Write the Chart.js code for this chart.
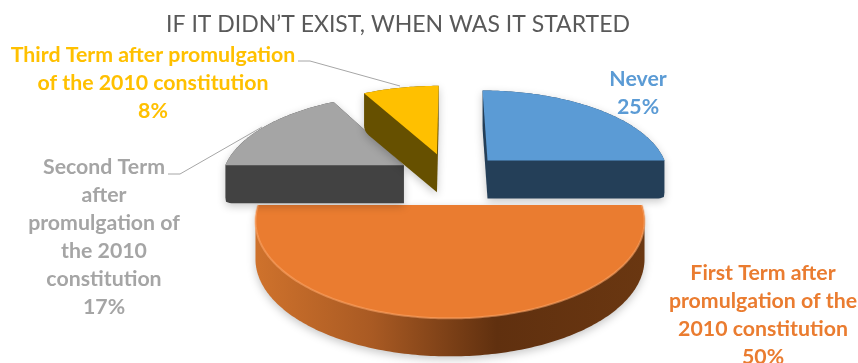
<!DOCTYPE html>
<html>
<head>
<meta charset="utf-8">
<title>Start of the practice</title>
<style>
  html, body { margin: 0; padding: 0; background: #ffffff; }
  canvas { display: block; }
</style>
<script src="https://cdn.jsdelivr.net/npm/chart.js@4/dist/chart.umd.min.js"></script>
</head>
<body>
<canvas id="chart" width="858" height="363"></canvas>
<script>
const chartTitle = "IF IT DIDN\u2019T EXIST, WHEN WAS IT STARTED";
const categories = ["Never", "First Term", "Second Term", "Third Term"];
const values = [25, 50, 17, 8];
const categoryLines = [
  ["Never"],
  ["First Term after", "promulgation of the", "2010 constitution"],
  ["Second Term", "after", "promulgation of", "the 2010", "constitution"],
  ["Third Term after promulgation", "of the 2010 constitution"]
];
const topColors = ["#5b9bd5", "#ea7c30", "#a5a5a5", "#ffc000"];
const sideColors = ["#243f58", "#8a4a1c", "#424242", "#665000"];
const rimColors = [null, "rgba(255,170,110,0.55)", null, null];

// Label anchor: centre x and first-line centre y for each slice.
const labelAnchors = [
  { x: 638, y: 79 },
  { x: 763, y: 273 },
  { x: 104, y: 167 },
  { x: 153, y: 55 }
];
const labelLineHeight = 28;
const leaderLines = [
  null, null,
  [[168, 174], [180, 174], [262, 127]],
  [[298, 61], [310, 61], [400, 86]]
];

// Camera used to lay the flat pie onto a tilted plane.
const camera = { near: 0.00547, falloff: 0.00086, tilt: 0.47, depth: 38, corner: 6 };

function project(el, u, v) {
  const w = 1 / (camera.near - camera.falloff * v);
  return [el.x + u * w, el.y + camera.tilt * v * w];
}

function convexHull(points) {
  const pts = points.slice().sort((a, b) => a[0] - b[0] || a[1] - b[1]);
  const cross = (o, a, b) => (a[0] - o[0]) * (b[1] - o[1]) - (a[1] - o[1]) * (b[0] - o[0]);
  const chain = list => {
    const out = [];
    for (const p of list) {
      while (out.length > 1 && cross(out[out.length - 2], out[out.length - 1], p) <= 0) out.pop();
      out.push(p);
    }
    out.pop();
    return out;
  };
  return chain(pts).concat(chain(pts.reverse()));
}

function tracePolygon(ctx, pts) {
  ctx.beginPath();
  pts.forEach((p, i) => (i ? ctx.lineTo(p[0], p[1]) : ctx.moveTo(p[0], p[1])));
  ctx.closePath();
}

// Rounds the lower corner where the rim meets the flat cut face.
function softCorner(corner, apex) {
  const dx = apex[0] - corner[0];
  const dy = apex[1] - corner[1];
  const len = Math.hypot(dx, dy) || 1;
  const r = camera.corner;
  const from = [corner[0], corner[1] - r];
  const to = [corner[0] + dx / len * r, corner[1] + dy / len * r];
  const pts = [];
  for (let i = 0; i <= 6; i++) {
    const t = i / 6;
    const s = 1 - t;
    pts.push([
      s * s * from[0] + 2 * s * t * corner[0] + t * t * to[0],
      s * s * from[1] + 2 * s * t * corner[1] + t * t * to[1]
    ]);
  }
  return pts;
}

// Arc element that renders as a thick slice on the tilted plane.
class ExtrudedArc extends Chart.ArcElement {
  static id = "extrudedArc";
  draw(ctx) {
    const { startAngle, endAngle, outerRadius } = this;
    const index = this.$context ? this.$context.dataIndex : 0;
    const mid = (startAngle + endAngle) / 2;
    const gap = (this.options.offset || 0) / outerRadius;
    const cu = Math.cos(mid) * gap;
    const cv = Math.sin(mid) * gap;

    const rimPts = [];
    const steps = Math.max(8, Math.round((endAngle - startAngle) * 60));
    for (let i = 0; i <= steps; i++) {
      const a = startAngle + (endAngle - startAngle) * i / steps;
      rimPts.push(project(this, cu + Math.cos(a), cv + Math.sin(a)));
    }
    const apex = project(this, cu, cv);
    const topPts = [apex].concat(rimPts);
    const drop = p => [p[0], p[1] + camera.depth];
    const lowRim = rimPts.map(drop);
    const lowApex = drop(apex);
    const lowPts = [lowApex]
      .concat(softCorner(lowRim[0], lowApex))
      .concat(lowRim.slice(1, -1))
      .concat(softCorner(lowRim[lowRim.length - 1], lowApex));
    const body = convexHull(topPts.concat(lowPts));

    ctx.save();
    ctx.shadowColor = "rgba(0,0,0,0.22)";
    ctx.shadowBlur = 9;
    ctx.shadowOffsetY = 3;
    tracePolygon(ctx, body);
    if (index === 1) {
      const xs = topPts.map(p => p[0]);
      const g = ctx.createLinearGradient(Math.min(...xs), 0, Math.max(...xs), 0);
      g.addColorStop(0, "#cf722c");
      g.addColorStop(0.3, "#a95a23");
      g.addColorStop(0.62, "#60300f");
      g.addColorStop(1, "#6a3711");
      ctx.fillStyle = g;
    } else {
      ctx.fillStyle = sideColors[index];
    }
    ctx.fill();
    ctx.restore();

    ctx.save();
    tracePolygon(ctx, topPts);
    ctx.fillStyle = this.options.backgroundColor;
    ctx.fill();
    if (rimColors[index]) {
      ctx.beginPath();
      rimPts.forEach((p, i) => (i ? ctx.lineTo(p[0], p[1]) : ctx.moveTo(p[0], p[1])));
      ctx.strokeStyle = rimColors[index];
      ctx.lineWidth = 2;
      ctx.stroke();
    }
    ctx.restore();
  }
}

class ExtrudedPie extends Chart.PieController {
  static id = "extrudedPie";
  static defaults = { dataElementType: "extrudedArc" };
}

Chart.register(ExtrudedArc, ExtrudedPie);

// Title, slice labels and leader lines.
const annotations = {
  id: "annotations",
  afterDraw(chart) {
    const ctx = chart.ctx;
    ctx.save();
    ctx.textAlign = "center";
    ctx.textBaseline = "middle";
    ctx.font = "400 23px Lato";
    ctx.fillStyle = "#595959";
    ctx.fillText(chartTitle, 398, 25);

    ctx.strokeStyle = "#a6a6a6";
    ctx.lineWidth = 1;
    leaderLines.forEach(line => {
      if (!line) return;
      ctx.beginPath();
      line.forEach((p, i) => (i ? ctx.lineTo(p[0], p[1]) : ctx.moveTo(p[0], p[1])));
      ctx.stroke();
    });

    ctx.font = "700 21.3px Lato";
    values.forEach((value, i) => {
      const lines = categoryLines[i].concat(value + "%");
      ctx.fillStyle = topColors[i];
      lines.forEach((text, n) => {
        ctx.fillText(text, labelAnchors[i].x, labelAnchors[i].y + n * labelLineHeight);
      });
    });
    ctx.restore();
  }
};

new Chart(document.getElementById("chart"), {
  type: "extrudedPie",
  data: {
    labels: categories,
    datasets: [{
      data: values,
      backgroundColor: topColors,
      borderWidth: 0,
      offset: 46.4
    }]
  },
  options: {
    responsive: false,
    animation: false,
    layout: { padding: { left: 42, bottom: 7 } },
    plugins: { legend: { display: false }, tooltip: { enabled: false } }
  },
  plugins: [annotations]
});
</script>
</body>
</html>
